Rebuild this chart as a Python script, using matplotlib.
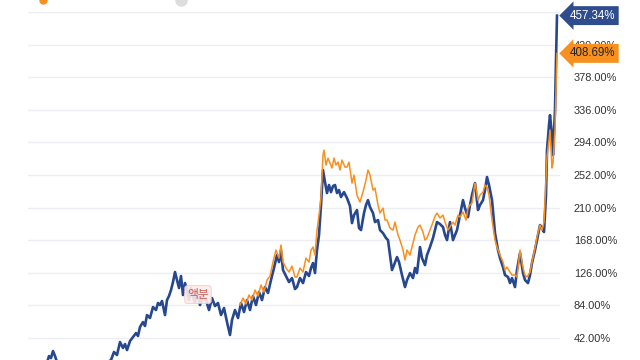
import matplotlib.pyplot as plt
from matplotlib.lines import Line2D
from matplotlib.ticker import FixedLocator, FuncFormatter

plt.rcParams['font.family'] = ['Liberation Sans', 'Noto Sans CJK KR', 'DejaVu Sans']

# cumulative return (%), blue series, by week index
blue_t = [28, 31, 34, 37, 40, 43, 46, 49, 51, 53, 55, 57, 60, 64, 68, 72, 76, 80, 84, 88,
          92, 96, 100, 104, 108, 111, 114, 117, 120, 123, 125, 127, 130, 133, 136, 138, 140,
          143, 145, 147, 150, 153, 156, 158, 160, 162, 165, 167, 169, 171, 173, 175, 177, 179,
          181, 183, 185, 187, 189, 191, 193, 195, 197, 200, 203, 206, 209, 212, 215, 218, 221,
          224, 227, 230, 232, 235, 238, 241, 244, 247, 250, 253, 256, 259, 262, 265, 268, 271,
          274, 277, 279, 281, 283, 286, 289, 292, 295, 297, 300, 303, 306, 309, 311, 313, 315,
          317, 319, 321, 323, 325, 327, 329, 331, 333, 335, 337, 339, 341, 344, 347, 350, 352,
          354, 357, 359, 361, 364, 366, 368, 370, 373, 375, 378, 380, 383, 386, 388, 390, 392,
          394, 397, 399, 402, 405, 407, 410, 413, 415, 417, 420, 422, 425, 427, 430, 433, 435,
          437, 440, 443, 445, 447, 450, 453, 455, 457, 460, 463, 465, 468, 470, 472, 475, 478,
          480, 483, 485, 487, 489, 492, 495, 498, 500, 503, 505, 508, 510, 512, 515, 517, 520,
          523, 525, 528, 530, 532, 535, 537, 540, 542, 544, 546, 547, 549, 550, 552, 553, 555,
          556, 557]
blue_v = [-1.8, 3.4, -4.4, 5.9, 0.8, 11.1, 5.9, 18.8, 16.2, 25.3, 18.8, 11.1, 4.6, -1.8, 3.4,
          -5.7, 0.8, -6.9, -0.5, -9.5, -1.8, -8.2, 0.8, 5.9, 11.1, 13.7, 24.0, 20.1, 36.8, 29.1,
          34.3, 26.5, 38.1, 43.3, 48.4, 44.6, 56.2, 62.6, 57.5, 71.6, 67.8, 81.9, 78.1, 87.1,
          84.5, 89.7, 71.6, 90.9, 96.1, 103.8, 114.1, 127.0, 116.7, 106.4, 121.9, 97.4, 112.8,
          103.8, 90.9, 106.4, 94.8, 88.4, 102.5, 84.5, 97.4, 90.9, 78.1, 93.5, 83.2, 87.1, 71.6,
          80.6, 62.6, 45.9, 65.2, 78.1, 67.8, 87.1, 75.5, 90.9, 78.1, 96.1, 84.5, 101.2, 90.9,
          107.7, 100.0, 116.7, 132.2, 148.9, 139.9, 155.3, 129.6, 121.9, 114.1, 119.3, 105.1,
          107.7, 119.3, 112.8, 127.0, 121.9, 132.2, 138.6, 125.7, 155.3, 174.7, 213.3, 258.4,
          242.9, 228.8, 239.1, 230.0, 237.8, 239.1, 228.8, 232.6, 223.6, 230.0, 222.3, 212.0,
          190.1, 200.4, 206.9, 183.7, 181.1, 203.0, 213.3, 219.7, 210.7, 203.0, 191.4, 194.0,
          181.1, 177.2, 170.8, 168.2, 148.9, 129.6, 136.0, 146.3, 139.9, 123.1, 107.7, 116.7,
          125.7, 119.3, 132.2, 125.7, 159.2, 145.0, 136.0, 148.9, 159.2, 170.8, 181.1, 191.4,
          188.8, 185.0, 174.7, 168.2, 191.4, 168.2, 174.7, 181.1, 200.4, 219.7, 209.4, 197.8,
          213.3, 226.2, 241.6, 206.9, 213.3, 219.7, 232.6, 249.4, 239.1, 219.7, 177.2, 155.3,
          145.0, 133.4, 123.1, 120.6, 112.8, 119.3, 107.7, 129.6, 151.5, 125.7, 116.7, 112.8,
          123.1, 138.6, 155.3, 168.2, 187.5, 183.7, 178.5, 226.2, 284.1, 316.3, 329.2, 303.5,
          277.7, 335.7, 400.1, 457.34]

# cumulative return (%), orange series
orange_t = [240, 243, 246, 249, 252, 255, 258, 261, 264, 267, 270, 273, 276, 279, 281, 283,
            286, 289, 292, 295, 297, 300, 303, 306, 309, 311, 313, 315, 317, 319, 321, 323,
            324, 326, 328, 330, 332, 334, 336, 338, 340, 342, 345, 347, 349, 352, 354, 357,
            359, 360, 363, 366, 368, 370, 373, 375, 378, 380, 383, 385, 387, 390, 393, 395,
            398, 400, 403, 405, 407, 410, 412, 415, 418, 420, 423, 425, 427, 430, 433, 435,
            437, 440, 443, 445, 448, 450, 453, 455, 458, 460, 463, 466, 468, 470, 472, 475,
            478, 480, 483, 485, 487, 489, 492, 495, 497, 500, 503, 505, 507, 510, 512, 515,
            517, 520, 523, 525, 527, 530, 532, 535, 537, 540, 542, 544, 546, 547, 549, 550,
            552, 553, 555, 556, 557]
orange_v = [84.5, 93.5, 85.8, 97.4, 90.9, 103.8, 96.1, 110.3, 101.2, 116.7, 121.9, 139.9,
            155.3, 145.0, 161.8, 139.9, 132.2, 127.0, 134.7, 120.6, 120.6, 132.2, 127.0, 145.0,
            139.9, 155.3, 159.2, 148.9, 181.1, 200.4, 223.6, 277.7, 284.1, 264.8, 273.8, 267.4,
            261.0, 273.8, 264.8, 268.7, 258.4, 271.3, 262.2, 262.2, 268.7, 241.6, 251.9, 226.2,
            219.7, 217.2, 230.0, 245.5, 258.4, 251.9, 232.6, 235.2, 213.3, 203.0, 209.4, 194.0,
            194.0, 183.7, 181.1, 191.4, 174.7, 168.2, 155.3, 142.5, 155.3, 148.9, 159.2, 174.7,
            185.0, 187.5, 178.5, 168.2, 170.8, 181.1, 191.4, 199.1, 203.0, 196.6, 200.4, 191.4,
            181.1, 185.0, 191.4, 187.5, 200.4, 197.8, 204.3, 194.0, 209.4, 213.3, 215.9, 241.6,
            219.7, 226.2, 230.0, 239.1, 236.5, 226.2, 194.0, 168.2, 159.2, 148.9, 139.9, 129.6,
            133.4, 127.0, 123.1, 123.1, 120.6, 155.3, 132.2, 123.1, 120.6, 127.0, 139.9, 157.9,
            172.1, 187.5, 181.1, 191.4, 245.5, 275.1, 297.0, 309.9, 261.0, 267.4, 309.9, 361.4,
            408.69]

y_ticks = [42, 84, 126, 168, 210, 252, 294, 336, 378, 420, 462]
blue_c = '#27478f'
orange_c = '#f7901e'

fig = plt.figure(figsize=(6.4, 3.6), dpi=100)
ax = fig.add_axes([28 / 640, 0, 532 / 640, 348 / 360])

ax.plot(blue_t, blue_v, color=blue_c, lw=1.9, solid_joinstyle='round')
ax.plot(orange_t, orange_v, color=orange_c, lw=1.1, solid_joinstyle='round')

ax.set_xlim(28, 560)
ax.set_ylim(13.7, 462)
ax.yaxis.set_major_locator(FixedLocator(y_ticks))
ax.yaxis.set_major_formatter(FuncFormatter(lambda v, p: '' if v > 440 else f'{v:.2f}%'))
ax.yaxis.tick_right()
ax.tick_params(axis='y', length=0, pad=10, labelsize=7.9, labelcolor='#333333')
ax.tick_params(axis='x', bottom=False, labelbottom=False)
ax.grid(axis='y', color='#eceef4', lw=1)
for s in ax.spines.values():
    s.set_visible(False)

# last-value badges
ax.annotate(f'{blue_v[-1]:.2f}%', xy=(1, blue_v[-1]), xycoords=('axes fraction', 'data'),
            xytext=(7, 0), textcoords='offset points', va='center', ha='left',
            fontsize=8.3, color='white',
            bbox=dict(boxstyle='larrow,pad=0.3', fc='#2f4d8e', ec='none'))
ax.annotate(f'{orange_v[-1]:.2f}%', xy=(1, orange_v[-1]), xycoords=('axes fraction', 'data'),
            xytext=(7, 0), textcoords='offset points', va='center', ha='left',
            fontsize=8.3, color='#222222',
            bbox=dict(boxstyle='larrow,pad=0.3', fc='#f7901e', ec='none'))

# split marker
ax.text(198, 98, '액분', fontsize=8.5, color='#c8504a', ha='center', va='center',
        family=['Noto Sans CJK KR', 'DejaVu Sans'], alpha=0.9,
        bbox=dict(boxstyle='round,pad=0.2', fc='#fdeceb', ec='#f4c6c4', lw=0.6, alpha=0.9))

# legend remnant at top edge
fig.add_artist(Line2D([43 / 640], [1.0], marker='o', ms=5, color=orange_c, transform=fig.transFigure))
fig.add_artist(Line2D([181 / 640], [1.0], marker='o', ms=8, color='#dddddd', transform=fig.transFigure))

fig.savefig('out.png', dpi=100)
